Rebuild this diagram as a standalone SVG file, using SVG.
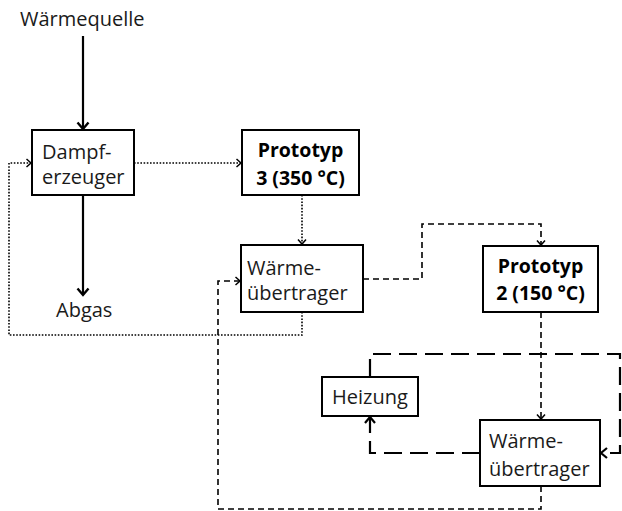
<svg xmlns="http://www.w3.org/2000/svg" width="622" height="511" viewBox="0 0 622 511">
<style>
.box{fill:#fff;stroke:#000;stroke-width:2}
.t{font-family:"Open Sans","Liberation Sans",sans-serif;font-size:20px;fill:#1a1a1a}
.b{font-weight:bold;text-anchor:middle;fill:#000;font-size:19.5px}
.solid{fill:none;stroke:#000;stroke-width:2.2}
.dot{fill:none;stroke:#000;stroke-width:1.6;stroke-dasharray:1.6 1.6}
.dash{fill:none;stroke:#000;stroke-width:1.6;stroke-dasharray:6 4}
.ldash{fill:none;stroke:#000;stroke-width:2.2;stroke-dasharray:18 8}
</style>
<defs>
<marker id="aS" markerUnits="userSpaceOnUse" markerWidth="14" markerHeight="14" refX="11" refY="7" orient="auto">
<path d="M4.5,1.5 L11,7 L4.5,12.5" fill="none" stroke="#000" stroke-width="2.4"/>
</marker>
<marker id="aL" markerUnits="userSpaceOnUse" markerWidth="14" markerHeight="14" refX="11" refY="7" orient="auto">
<path d="M5,2 L11,7 L5,12" fill="none" stroke="#000" stroke-width="2.2"/>
</marker>
<marker id="aT" markerUnits="userSpaceOnUse" markerWidth="12" markerHeight="12" refX="10" refY="6" orient="auto">
<path d="M5.5,2 L10,6 L5.5,10" fill="none" stroke="#000" stroke-width="1.5"/>
</marker>
</defs>
<text class="t" x="20" y="26">Wärmequelle</text>
<text class="t" x="56" y="317">Abgas</text>
<g id="connectors">
<path class="solid" d="M83,36 V129" marker-end="url(#aS)"/>
<path class="solid" d="M83,195 V295" marker-end="url(#aS)"/>
<path class="dot" d="M134,163 H241" marker-end="url(#aT)"/>
<path class="dot" d="M302,195 V244" marker-end="url(#aT)"/>
<path class="dot" d="M302,312 V335 H9 V163 H31" marker-end="url(#aT)"/>
<path class="dash" d="M363,279 H422 V224 H541 V245" marker-end="url(#aT)"/>
<path class="dash" d="M541,312 V419" marker-end="url(#aT)"/>
<path class="dash" d="M541,486 V509 H218 V281 H240" marker-end="url(#aT)"/>
<path class="ldash" d="M370,377 V354 H620 V453 H601" marker-end="url(#aL)"/>
<path class="ldash" d="M480,453 H370 V417" marker-end="url(#aL)"/>
</g>
<g id="dampferzeuger">
<rect class="box" x="32" y="130" width="102" height="65"/>
<text class="t" x="42" y="159">Dampf-</text>
<text class="t" x="42" y="184">erzeuger</text>
</g>
<g id="prototyp3">
<rect class="box" x="242" y="130" width="117" height="65"/>
<text class="t b" x="300.5" y="157">Prototyp</text>
<text class="t b" x="300.5" y="185">3 (350 °C)</text>
</g>
<g id="waermeuebertrager1">
<rect class="box" x="241" y="245" width="122" height="67"/>
<text class="t" x="247" y="275">Wärme-</text>
<text class="t" x="247" y="300">übertrager</text>
</g>
<g id="prototyp2">
<rect class="box" x="483" y="246" width="115" height="66"/>
<text class="t b" x="540.5" y="273">Prototyp</text>
<text class="t b" x="540.5" y="300">2 (150 °C)</text>
</g>
<g id="heizung">
<rect class="box" x="322" y="377" width="96" height="39"/>
<text class="t" x="370" y="404" text-anchor="middle">Heizung</text>
</g>
<g id="waermeuebertrager2">
<rect class="box" x="480" y="420" width="120" height="66"/>
<text class="t" x="489" y="448">Wärme-</text>
<text class="t" x="489" y="476">übertrager</text>
</g>
</svg>
